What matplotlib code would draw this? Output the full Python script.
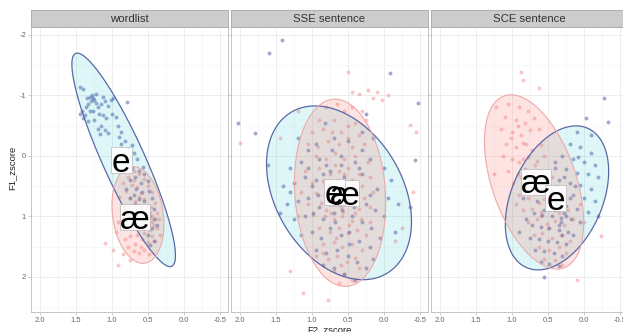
import numpy as np
import matplotlib
matplotlib.use('Agg')
import matplotlib.pyplot as plt
from matplotlib.patches import Polygon, Rectangle
import matplotlib.transforms as mtransforms

plt.rcParams['font.family'] = ['Liberation Sans', 'DejaVu Sans']
plt.rcParams['axes.unicode_minus'] = False

# ---------------- data ----------------
panels = ['wordlist', 'SSE sentence', 'SCE sentence']
vowels = ['e', 'æ']

x_ticks = [2.0, 1.5, 1.0, 0.5, 0.0, -0.5]
x_tick_labels = ['2.0', '1.5', '1.0', '0.5', '0.0', '-0.5']
y_ticks = [-2, -1, 0, 1, 2]
y_tick_labels = ['-2', '-1', '0', '1', '2']

# (F2_zscore, F1_zscore) points
wordlist_e = [(1.44,-1.14),(1.40,-1.10),(1.31,-0.98),(1.28,-1.00),(1.27,-0.95),(1.25,-0.93),(1.29,-0.90),
    (1.33,-0.86),(1.22,-0.88),(1.36,-0.80),(1.42,-0.75),(1.45,-0.70),(1.38,-0.68),(1.30,-0.74),(1.20,-0.80),
    (1.15,-0.85),(1.10,-0.90),(1.05,-0.83),(1.02,-0.92),(0.98,-0.96),(0.79,-0.89),(1.18,-0.70),(1.12,-0.68),
    (1.25,-0.60),(1.33,-0.57),(1.08,-0.62),(1.00,-0.70),(0.95,-0.65),(1.15,-0.50),(1.20,-0.45),(1.10,-0.42),
    (1.05,-0.38),(1.17,-0.36),(0.92,-0.50),(0.88,-0.40),(1.40,-0.62),(1.26,-0.75),(1.35,-0.95),(1.22,-1.02),
    (1.13,-0.98),(0.90,-0.32),(0.87,-0.20),(0.82,-0.25),(0.78,-0.12),(0.72,-0.18),(0.70,-0.05),(0.85,-0.05),
    (0.75,0.02),(0.65,0.05),(0.80,0.10),(0.72,0.20),(0.62,0.25),(0.68,0.35),(0.55,0.30),(0.75,0.40),(0.60,0.45),
    (0.50,0.42),(0.66,0.55),(0.58,0.60),(0.48,0.58),(0.70,0.65),(0.62,0.72),(0.55,0.75),(0.45,0.70),(0.52,0.85),
    (0.42,0.88),(0.60,0.90),(0.68,0.80),(0.48,1.00),(0.40,1.05),(0.55,1.10),(0.45,1.20),(0.38,1.15),(0.50,1.30),
    (0.42,1.40),(0.47,1.48),(0.65,1.00),(0.75,0.70),(0.80,0.55),(0.57,0.18)]

wordlist_ae = [(0.70,0.25),(0.62,0.30),(0.78,0.35),(0.55,0.38),(0.85,0.45),(0.72,0.48),(0.65,0.52),(0.50,0.50),
    (0.80,0.58),(0.60,0.62),(0.45,0.60),(0.90,0.68),(0.75,0.70),(0.68,0.75),(0.55,0.72),(0.40,0.78),(0.82,0.82),
    (0.63,0.85),(0.52,0.88),(0.47,0.92),(0.72,0.92),(0.58,0.95),(0.50,0.98),(0.44,1.00),(0.55,1.02),(0.48,1.05),
    (0.52,1.08),(0.45,1.10),(0.58,1.12),(0.50,1.15),(0.42,1.15),(0.62,1.05),(0.68,1.00),(0.75,1.05),(0.85,1.00),
    (0.92,1.10),(0.80,1.15),(0.70,1.18),(0.60,1.20),(0.47,1.22),(0.38,1.20),(0.35,1.05),(0.55,1.28),(0.65,1.30),
    (0.75,1.32),(0.45,1.32),(0.58,1.38),(0.50,1.42),(0.68,1.45),(0.40,1.40),(0.82,1.38),(1.10,1.44),(0.98,1.55),
    (0.92,1.80),(0.75,1.72),(0.62,1.60),(0.55,1.55),(0.70,1.58),(0.48,1.62),(0.85,1.62),(0.65,0.95),(0.53,0.95),
    (0.49,1.12),(0.43,1.05),(0.56,1.18),(0.46,0.85),(0.38,0.95),(0.33,1.30),(0.62,0.68),(0.70,0.40),(0.88,0.90),
    (0.95,1.25),(0.78,1.50),(0.60,1.50),(0.52,1.10),(0.47,1.00),(0.51,1.20),(0.59,1.00)]

sse_e = [(1.42,-1.92),(1.60,-1.70),(2.03,-0.55),(1.79,-0.38),(1.61,0.15),(-0.08,-1.37),(-0.47,-0.88),(-0.43,0.07),
    (-0.36,0.84),(0.82,-0.55),(0.25,-0.70),(1.20,-0.30),(1.05,-0.10),(0.95,-0.20),(0.70,-0.30),(0.50,-0.25),
    (0.30,-0.40),(0.15,-0.30),(1.30,0.20),(1.15,0.10),(0.90,0.05),(0.80,0.15),(0.60,0.00),(0.40,0.10),(0.20,0.05),
    (0.00,0.20),(-0.10,0.40),(1.40,0.50),(1.25,0.45),(1.10,0.35),(0.95,0.40),(0.85,0.30),(0.72,0.45),(0.55,0.35),
    (0.45,0.50),(0.30,0.30),(0.10,0.55),(-0.05,0.70),(-0.20,0.80),(1.35,0.80),(1.20,0.75),(1.05,0.70),(0.92,0.65),
    (0.80,0.75),(0.65,0.62),(0.50,0.72),(0.38,0.65),(0.25,0.80),(0.12,0.90),(0.00,1.00),(1.25,1.05),(1.10,1.00),
    (0.98,0.95),(0.85,1.05),(0.70,0.95),(0.58,0.90),(0.45,1.00),(0.30,1.10),(0.18,1.20),(-0.15,1.25),(1.15,1.30),
    (1.00,1.25),(0.88,1.35),(0.75,1.20),(0.60,1.30),(0.48,1.25),(0.35,1.40),(0.20,1.50),(0.95,1.55),(0.80,1.60),
    (0.65,1.55),(0.50,1.65),(0.38,1.75),(0.25,1.85),(0.70,1.85),(0.55,1.95),(0.40,2.05),(1.05,0.20),(0.75,0.25),
    (0.62,0.80),(0.55,0.55),(0.68,1.10),(0.42,0.85),(0.90,0.85),(1.00,0.50),(0.35,0.20),(0.20,0.65),(0.05,1.35),
    (1.30,0.60),(0.78,0.50),(0.60,0.15),(0.48,1.45),(0.85,1.80),(0.15,1.70),(0.30,-0.10),(0.72,-0.10),(1.45,0.95)]

sse_ae = [(0.50,-1.39),(0.22,-1.09),(-0.06,-1.00),(2.00,-0.21),(-0.36,-0.51),(-0.45,-0.40),(1.12,2.27),(0.78,2.38),
    (0.44,-1.05),(0.35,-1.02),(0.15,-0.95),(0.03,-0.93),(0.10,-1.05),(1.20,-0.75),(1.45,-0.30),(-0.15,1.40),
    (-0.25,1.20),(-0.40,0.60),(1.30,1.90),(0.80,-0.80),(0.65,-0.85),(0.55,-0.75),(0.45,-0.80),(0.90,-0.60),
    (0.70,-0.60),(0.40,-0.55),(0.25,-0.60),(1.00,-0.40),(0.85,-0.45),(0.60,-0.40),(0.50,-0.50),(0.35,-0.35),
    (1.05,-0.20),(0.78,-0.25),(0.62,-0.20),(0.45,-0.15),(0.28,-0.20),(0.95,0.00),(0.80,0.05),(0.68,-0.05),
    (0.55,0.05),(0.40,0.00),(0.22,0.10),(1.10,0.25),(0.90,0.20),(0.75,0.30),(0.62,0.25),(0.50,0.20),(0.35,0.30),
    (0.20,0.35),(1.00,0.45),(0.85,0.42),(0.70,0.50),(0.58,0.45),(0.45,0.40),(0.30,0.50),(0.95,0.62),(0.78,0.65),
    (0.66,0.60),(0.55,0.68),(0.42,0.62),(0.28,0.70),(1.05,0.80),(0.88,0.78),(0.72,0.80),(0.60,0.85),(0.48,0.80),
    (0.35,0.88),(0.20,0.85),(0.98,0.98),(0.82,1.00),(0.70,1.05),(0.58,1.00),(0.45,1.08),(0.32,1.05),(0.90,1.20),
    (0.75,1.25),(0.62,1.20),(0.50,1.28),(0.38,1.22),(0.25,1.30),(0.85,1.45),(0.70,1.42),(0.58,1.50),(0.45,1.45),
    (0.30,1.55),(0.78,1.70),(0.65,1.65),(0.52,1.75),(0.40,1.68),(0.70,1.90),(0.55,1.95),(0.62,2.10),(0.45,2.05),
    (0.68,0.15),(0.52,0.58),(0.63,0.72),(0.57,0.92),(0.67,1.35),(0.48,1.15),(0.73,0.95),(0.61,0.55),(0.55,0.30),
    (0.65,0.40),(0.80,0.90),(0.40,0.95),(0.50,-0.30),(0.72,-0.40),(0.30,-0.75),(0.85,1.60),(0.20,1.10),(1.15,0.60),
    (1.20,1.00),(0.15,0.60),(0.92,-0.15),(0.60,1.80),(0.95,1.65),(0.35,1.85)]

sce_e = [(-0.28,-0.96),(-0.03,-0.62),(-0.33,-0.56),(0.56,2.00),(0.10,-0.40),(-0.10,-0.35),(0.20,-0.20),(0.05,-0.15),
    (-0.10,-0.05),(0.30,0.00),(0.15,0.05),(0.00,0.10),(-0.15,0.15),(0.40,0.20),(0.25,0.22),(0.10,0.28),(-0.05,0.30),
    (-0.20,0.35),(0.50,0.38),(0.35,0.40),(0.20,0.45),(0.05,0.48),(-0.10,0.55),(0.60,0.55),(0.45,0.58),(0.30,0.60),
    (0.15,0.65),(0.00,0.70),(-0.15,0.75),(0.65,0.75),(0.52,0.78),(0.38,0.80),(0.25,0.82),(0.10,0.88),(-0.05,0.92),
    (0.70,0.95),(0.58,0.98),(0.45,1.00),(0.32,1.02),(0.18,1.05),(0.05,1.10),(0.72,1.15),(0.60,1.18),(0.48,1.20),
    (0.35,1.22),(0.22,1.25),(0.75,1.35),(0.62,1.38),(0.50,1.40),(0.38,1.42),(0.25,1.45),(0.68,1.55),(0.55,1.58),
    (0.42,1.60),(0.30,1.65),(0.60,1.75),(0.48,1.78),(0.35,1.82),(0.28,0.95),(0.32,1.10),(0.40,0.90),(0.25,1.00),
    (0.30,1.30),(0.35,1.15),(0.20,0.70),(0.12,0.50),(0.42,0.70),(0.55,0.90),(0.15,1.30),(0.80,1.05),(0.85,0.70),
    (0.90,1.25),(-0.20,1.00),(0.40,0.10),(0.28,0.35),(0.08,0.02)]

sce_ae = [(0.875,-1.38),(0.85,-1.26),(0.62,-1.12),(1.22,-0.81),(-0.24,1.33),(0.10,2.05),(1.25,0.30),(1.05,-0.85),
    (0.90,-0.80),(0.78,-0.75),(1.10,-0.65),(0.95,-0.60),(0.82,-0.55),(0.70,-0.62),(1.15,-0.45),(1.00,-0.40),
    (0.88,-0.35),(0.75,-0.42),(0.62,-0.45),(1.08,-0.20),(0.95,-0.15),(0.85,-0.22),(0.72,-0.10),(0.60,-0.18),
    (1.12,0.00),(1.00,0.05),(0.90,0.10),(0.78,0.02),(0.65,0.08),(0.55,0.00),(1.05,0.25),(0.92,0.30),(0.82,0.22),
    (0.70,0.28),(0.58,0.25),(0.45,0.35),(0.98,0.45),(0.85,0.50),(0.75,0.42),(0.62,0.48),(0.50,0.55),(0.38,0.50),
    (0.90,0.65),(0.78,0.70),(0.68,0.62),(0.55,0.72),(0.42,0.68),(0.30,0.75),(0.85,0.90),(0.72,0.88),(0.60,0.92),
    (0.48,0.85),(0.35,0.95),(0.22,0.90),(0.78,1.10),(0.65,1.05),(0.52,1.12),(0.40,1.08),(0.28,1.15),(0.15,1.05),
    (0.70,1.30),(0.58,1.28),(0.45,1.35),(0.32,1.30),(0.20,1.40),(0.62,1.50),(0.48,1.55),(0.35,1.50),(0.25,1.60),
    (0.55,1.70),(0.40,1.72),(0.30,1.80),(0.92,-0.50),(0.80,-0.20),(0.68,0.15),(0.95,0.80),(0.55,0.40),(0.88,0.35),
    (0.73,0.55),(0.63,0.78),(1.02,-0.30),(0.85,0.05),(0.60,1.00),(0.50,1.20),(0.05,0.80),(0.00,1.10)]

points_e = [wordlist_e, sse_e, sce_e]
points_ae = [wordlist_ae, sse_ae, sce_ae]

# ellipses: centre, conjugate semi-diameters (a: to topmost point, b: horizontal)
ell_e_cx = [0.838, 0.625, 0.375]
ell_e_cy = [0.066, 0.610, 0.694]
ell_e_ax = [0.644, 0.333, -0.264]
ell_e_ay = [-1.764, -1.436, -1.190]
ell_e_bx = [0.320, 0.950, 0.667]

ell_ae_cx = [0.640, 0.610, 0.694]
ell_ae_cy = [0.975, 0.610, 0.430]
ell_ae_ax = [0.070, 0.070, 0.320]
ell_ae_ay = [-0.800, -1.547, -1.440]
ell_ae_bx = [0.354, 0.630, 0.610]

# vowel label positions
lab_e_x = [0.875, 0.69, 0.389]
lab_e_y = [0.07, 0.60, 0.694]
lab_ae_x = [0.68, 0.55, 0.667]
lab_ae_y = [1.01, 0.62, 0.425]

# ---------------- style ----------------
W, H = 623, 332
fig = plt.figure(figsize=(W / 100, H / 100), dpi=100)

col_pt_e = '#34429a'
col_pt_ae = '#f25c5c'
fill_e = '#00BFC4'
fill_ae = '#F8766D'
edge_e = '#5a68a8'
edge_ae = '#eeaaaa'

panel_left_px = [31, 231, 431]
panel_w_px = 197
panel_top_px = 27
panel_bot_px = 312
strip_top_px = 10

xlim = (2.125, -0.611)
ylim = (2.58, -2.13)


def ellipse_xy(cx, cy, ax_, ay_, bx, by=0.0, n=200):
    t = np.linspace(0, 2 * np.pi, n)
    return np.column_stack([cx + ax_ * np.cos(t) + bx * np.sin(t),
                            cy + ay_ * np.cos(t) + by * np.sin(t)])


def add_label(ax, x, y, text, wpx, hpx):
    off = mtransforms.ScaledTranslation(x, y, ax.transData)
    tr = fig.dpi_scale_trans + off
    rect = Rectangle((-wpx / 200, -hpx / 200), wpx / 100, hpx / 100, transform=tr,
                     facecolor='white', edgecolor='#b0b0b0', lw=0.5, alpha=0.9, zorder=5)
    ax.add_patch(rect)
    ax.annotate(text, (x, y), xytext=(0, -8.5), textcoords='offset points',
                ha='center', va='baseline', fontsize=24, color='black', zorder=6)


for i, name in enumerate(panels):
    left = panel_left_px[i] / W
    bottom = (H - panel_bot_px) / H
    height = (panel_bot_px - panel_top_px) / H
    ax = fig.add_axes([left, bottom, panel_w_px / W, height])
    ax.set_xlim(*xlim)
    ax.set_ylim(*ylim)
    ax.set_facecolor('white')

    ax.set_xticks(x_ticks)
    ax.set_xticklabels(x_tick_labels)
    ax.set_xticks([1.75, 1.25, 0.75, 0.25, -0.25], minor=True)
    ax.set_yticks(y_ticks)
    ax.set_yticks([-1.5, -0.5, 0.5, 1.5, 2.5], minor=True)
    if i == 0:
        ax.set_yticklabels(y_tick_labels)
    else:
        ax.set_yticklabels([])
    ax.grid(True, which='major', color='#e6e6e6', lw=0.5, zorder=0)
    ax.grid(True, which='minor', color='#f3f3f3', lw=0.4, zorder=0)
    ax.set_axisbelow(True)
    ax.tick_params(which='major', length=2, width=0.4, color='#aaaaaa',
                   labelsize=5.5, labelcolor='#666666', pad=1.5)
    ax.tick_params(which='minor', length=0)
    for sp in ax.spines.values():
        sp.set_color('#bbbbbb')
        sp.set_linewidth(0.6)

    pe = np.array(points_e[i])
    pa = np.array(points_ae[i])
    ax.scatter(pa[:, 0], pa[:, 1], s=8, color=col_pt_ae, alpha=0.35, lw=0, zorder=2)
    ax.scatter(pe[:, 0], pe[:, 1], s=8, color=col_pt_e, alpha=0.45, lw=0, zorder=2)

    ve = ellipse_xy(ell_e_cx[i], ell_e_cy[i], ell_e_ax[i], ell_e_ay[i], ell_e_bx[i])
    va = ellipse_xy(ell_ae_cx[i], ell_ae_cy[i], ell_ae_ax[i], ell_ae_ay[i], ell_ae_bx[i])
    ax.add_patch(Polygon(ve, closed=True, facecolor=fill_e, alpha=0.13, lw=0, zorder=3))
    ax.add_patch(Polygon(va, closed=True, facecolor=fill_ae, alpha=0.2, lw=0, zorder=3))
    ax.add_patch(Polygon(ve, closed=True, fill=False, edgecolor=edge_e, lw=0.9, zorder=4))
    ax.add_patch(Polygon(va, closed=True, fill=False, edgecolor=edge_ae, lw=0.8, zorder=4))

    add_label(ax, lab_ae_x[i], lab_ae_y[i], vowels[1], 30, 26)
    add_label(ax, lab_e_x[i], lab_e_y[i], vowels[0], 21, 26)

    # strip
    sax = fig.add_axes([left, (H - panel_top_px) / H, panel_w_px / W,
                        (panel_top_px - strip_top_px) / H])
    sax.set_xticks([])
    sax.set_yticks([])
    sax.set_facecolor('#cccccc')
    for sp in sax.spines.values():
        sp.set_color('#aaaaaa')
        sp.set_linewidth(0.6)
    sax.text(0.5, 0.45, name, ha='center', va='center', fontsize=8.2,
             color='#333333', transform=sax.transAxes)

fig.text(329 / W, 1 - 330 / H, 'F2_zscore', ha='center', va='center', fontsize=6.8, color='#222222')
fig.text(12 / W, 1 - 168 / H, 'F1_zscore', ha='center', va='center', rotation=90,
         fontsize=6.8, color='#222222')

fig.savefig('out.png', dpi=100)
